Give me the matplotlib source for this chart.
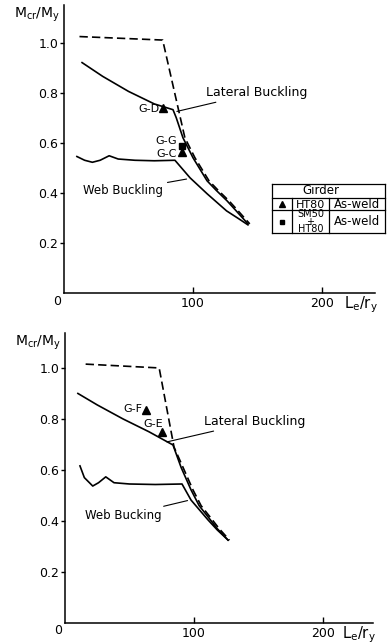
import numpy as np
import matplotlib.pyplot as plt
from matplotlib.lines import Line2D

plt.rcParams['font.family'] = ['DejaVu Sans']

# ---- upper chart: HT80 / SM50+HT80 girders ----
lat1_x = [14, 30, 50, 70, 84.5, 87, 92.2, 100, 110.9, 118, 126.4, 134, 142.6]
lat1_y = [0.92, 0.865, 0.805, 0.755, 0.732, 0.70, 0.62, 0.54, 0.448, 0.41, 0.368, 0.325, 0.276]
dash1_x = [12, 76.5, 88.4, 93.7, 101.5, 112.4, 119.5, 127.9, 135.5, 144]
dash1_y = [1.024, 1.01, 0.74, 0.62, 0.54, 0.448, 0.41, 0.368, 0.325, 0.276]
web1_x = [10, 16, 22, 28, 35, 42, 55, 70, 86, 97.7, 111, 126, 135, 142.6]
web1_y = [0.545, 0.53, 0.522, 0.53, 0.548, 0.535, 0.53, 0.528, 0.53, 0.46, 0.396, 0.328, 0.298, 0.272]
tri1 = {'G-D': (76.7, 0.74), 'G-C': (91.5, 0.564)}
sq1 = {'G-G': (91.5, 0.588)}

# ---- lower chart ----
lat2_x = [10, 25, 45, 65, 83.7, 90, 97.7, 104, 110.9, 118, 126.4]
lat2_y = [0.90, 0.855, 0.80, 0.75, 0.698, 0.61, 0.522, 0.46, 0.416, 0.37, 0.325]
dash2_x = [16, 73, 84.5, 91.5, 99.2, 105.5, 112.4, 119.5, 127.5]
dash2_y = [1.015, 1.0, 0.69, 0.61, 0.522, 0.46, 0.416, 0.37, 0.325]
web2_x = [11.6, 15, 21.5, 26, 31.6, 38, 50, 70, 90.7, 97.7, 110.9, 118, 126.4]
web2_y = [0.616, 0.57, 0.537, 0.55, 0.573, 0.55, 0.545, 0.543, 0.545, 0.482, 0.404, 0.365, 0.325]
tri2 = {'G-F': (62.8, 0.835), 'G-E': (75, 0.75)}

W, H = 387, 644
fig = plt.figure(figsize=(W / 100, H / 100), dpi=100)


def fpos(x, y):
    # pixel position -> figure fraction
    return x / W, 1 - y / H


def make_ax(left, right, top, base, ymax):
    ax = fig.add_axes([left / W, 1 - base / H, (right - left) / W, (base - top) / H])
    ax.set_xlim(0, (right - left) / 1.29)
    ax.set_ylim(0, ymax)
    for s in ['top', 'right']:
        ax.spines[s].set_visible(False)
    for s in ['left', 'bottom']:
        ax.spines[s].set_linewidth(1.1)
    ax.set_yticks([0.2, 0.4, 0.6, 0.8, 1.0])
    ax.set_yticklabels(['0.2', '0.4', '0.6', '0.8', '1.0'], fontsize=9)
    ax.tick_params(axis='y', direction='out', length=3, width=1, pad=1)
    ax.set_xticks([100, 200])
    ax.set_xticklabels(['100', '200'], fontsize=9)
    ax.tick_params(axis='x', direction='in', length=4, width=1, pad=3)
    ax.annotate('0', xy=(-5, 0), xytext=(0, -8), textcoords='offset pixels',
                fontsize=9, ha='center', va='center', annotation_clip=False)
    ax.annotate(r'L$_{\rm e}$/r$_{\rm y}$', xy=(1.0, 0), xycoords=ax.get_yaxis_transform(),
                xytext=(3, -12), textcoords='offset pixels', fontsize=10.5,
                ha='right', va='center', annotation_clip=False)
    ax.text(-0.087, ymax - 0.04, r'M$_{\rm cr}$/M$_{\rm y}$', transform=ax.get_yaxis_transform(),
            fontsize=10, ha='center', va='center')
    return ax


lw = 1.2
dash = (0, (5, 2.5))
lbl = 9

ax1 = make_ax(64, 375, 5, 293, 1.15)
ax1.plot(lat1_x, lat1_y, color='black', lw=lw)
ax1.plot(dash1_x, dash1_y, color='black', lw=lw, linestyle=dash)
ax1.plot(web1_x, web1_y, color='black', lw=lw)
for k, (x, y) in tri1.items():
    ax1.plot(x, y, marker='^', color='black', ms=5.5, ls='none')
for k, (x, y) in sq1.items():
    ax1.plot(x, y, marker='s', color='black', ms=4.5, ls='none')
ax1.text(tri1['G-D'][0] - 3, tri1['G-D'][1] - 0.005, 'G-D', fontsize=8, ha='right', va='center')
ax1.text(sq1['G-G'][0] - 4, sq1['G-G'][1] + 0.02, 'G-G', fontsize=8, ha='right', va='center')
ax1.text(tri1['G-C'][0] - 4, tri1['G-C'][1] - 0.01, 'G-C', fontsize=8, ha='right', va='center')
ax1.annotate('Lateral Buckling', xy=(87.5, 0.725), xytext=(110, 0.80), fontsize=lbl,
             ha='left', va='center', arrowprops=dict(arrowstyle='-', lw=0.8, color='black',
                                                     shrinkA=1, shrinkB=0))
ax1.annotate('Web Buckling', xy=(95, 0.455), xytext=(77, 0.41), fontsize=8.5,
             ha='right', va='center', arrowprops=dict(arrowstyle='-', lw=0.8, color='black',
                                                      shrinkA=1, shrinkB=0))

ax2 = make_ax(65, 373, 333, 623, 1.137)
ax2.plot(lat2_x, lat2_y, color='black', lw=lw)
ax2.plot(dash2_x, dash2_y, color='black', lw=lw, linestyle=dash)
ax2.plot(web2_x, web2_y, color='black', lw=lw)
for k, (x, y) in tri2.items():
    ax2.plot(x, y, marker='^', color='black', ms=5.5, ls='none')
ax2.text(tri2['G-F'][0] - 3, tri2['G-F'][1] + 0.005, 'G-F', fontsize=8, ha='right', va='center')
ax2.text(tri2['G-E'][0] + 1, tri2['G-E'][1] + 0.03, 'G-E', fontsize=8, ha='right', va='center')
ax2.annotate('Lateral Buckling', xy=(79, 0.71), xytext=(108, 0.79), fontsize=lbl,
             ha='left', va='center', arrowprops=dict(arrowstyle='-', lw=0.8, color='black',
                                                     shrinkA=1, shrinkB=0))
ax2.annotate('Web Bucking', xy=(95, 0.48), xytext=(75, 0.42), fontsize=8.5,
             ha='right', va='center', arrowprops=dict(arrowstyle='-', lw=0.8, color='black',
                                                      shrinkA=1, shrinkB=0))

# girder key table
tl, tr = 272, 385
tt, th, tm, tb = 184, 198, 210, 233
c1, c2 = 292, 329
seg = [((tl, tt), (tr, tt)), ((tl, tb), (tr, tb)), ((tl, tt), (tl, tb)), ((tr, tt), (tr, tb)),
       ((tl, th), (tr, th)), ((tl, tm), (tr, tm)), ((c1, th), (c1, tb)), ((c2, th), (c2, tb))]
for (xa, ya), (xb, yb) in seg:
    (fx0, fy0), (fx1, fy1) = fpos(xa, ya), fpos(xb, yb)
    fig.add_artist(Line2D([fx0, fx1], [fy0, fy1], color='black', lw=0.9))
fig.text(*fpos(321, (tt + th) / 2), 'Girder', fontsize=8.5, ha='center', va='center')
fig.add_artist(Line2D(*[[v] for v in fpos((tl + c1) / 2, (th + tm) / 2)], marker='^',
                      color='black', ms=4.5))
fig.add_artist(Line2D(*[[v] for v in fpos((tl + c1) / 2, (tm + tb) / 2)], marker='s',
                      color='black', ms=3.5))
fig.text(*fpos((c1 + c2) / 2, (th + tm) / 2 + 0.5), 'HT80', fontsize=8, ha='center', va='center')
fig.text(*fpos((c2 + tr) / 2, (th + tm) / 2 + 0.5), 'As-weld', fontsize=8.5, ha='center', va='center')
fig.text(*fpos((c1 + c2) / 2, (tm + tb) / 2), 'SM50\n+\nHT80', fontsize=7, ha='center',
         va='center', linespacing=0.7)
fig.text(*fpos((c2 + tr) / 2, (tm + tb) / 2), 'As-weld', fontsize=8.5, ha='center', va='center')

fig.savefig('out.png', dpi=100)
